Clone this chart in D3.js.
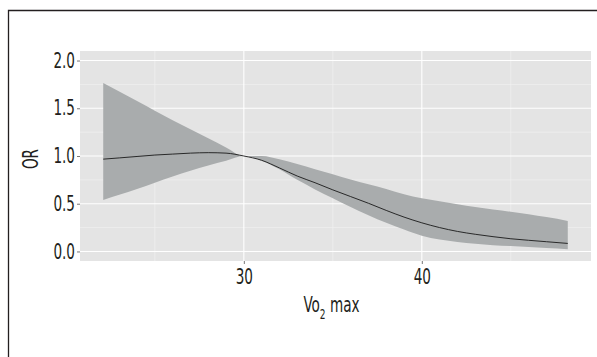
<!DOCTYPE html>
<html lang="en">
<head>
<meta charset="UTF-8" />
<title>OR by Vo2 max</title>
<script src="https://d3js.org/d3.v7.min.js"></script>
<style>
  body { margin: 0; background: #fff; }
  text { font-family: "DejaVu Sans Condensed", "DejaVu Sans", sans-serif; fill: #231f20; }
</style>
</head>
<body>
<svg width="597" height="357"></svg>
<script>
const width = 597;
const height = 357;

// Vo2 max values and the fitted odds ratio with its confidence band
const vo2 = [22.1, 23, 24, 25, 26, 27, 28, 29, 30, 31, 32, 33, 34, 35, 36, 37, 38, 39, 40, 41, 42, 43, 44, 45, 46, 47, 48.2];
const orFit = [0.967, 0.98, 0.995, 1.01, 1.02, 1.03, 1.035, 1.03, 1.0, 0.955, 0.875, 0.79, 0.72, 0.645, 0.575, 0.505, 0.43, 0.36, 0.30, 0.25, 0.21, 0.18, 0.155, 0.133, 0.117, 0.102, 0.084];
const orUpper = [1.766, 1.675, 1.575, 1.475, 1.375, 1.28, 1.185, 1.09, 1.0, 1.0, 0.965, 0.915, 0.86, 0.81, 0.755, 0.705, 0.655, 0.60, 0.557, 0.525, 0.495, 0.465, 0.44, 0.416, 0.39, 0.36, 0.32];
const orLower = [0.54, 0.595, 0.655, 0.72, 0.785, 0.845, 0.9, 0.95, 1.0, 0.95, 0.86, 0.75, 0.65, 0.557, 0.465, 0.38, 0.30, 0.23, 0.165, 0.125, 0.10, 0.08, 0.066, 0.056, 0.046, 0.036, 0.024];

const xMajor = [30, 40];
const xMinor = [25, 35, 45];
const yMajor = [0, 0.5, 1.0, 1.5, 2.0];
const yMinor = [0.25, 0.75, 1.25, 1.75];

const panel = { left: 80, right: 591, top: 51, bottom: 261 };
const squeeze = 0.72; // narrow the glyphs to look like a condensed face
const fontSize = 21;

const data = vo2.map((v, i) => ({ x: v, y: orFit[i], lo: orLower[i], hi: orUpper[i] }));

// ggplot style 5% expansion
const xr = d3.extent(vo2);
const xPad = (xr[1] - xr[0]) * 0.05;
const x = d3.scaleLinear().domain([xr[0] - xPad, xr[1] + xPad]).range([panel.left, panel.right]);
const y = d3.scaleLinear().domain([-0.1, 2.1]).range([panel.bottom, panel.top]);

const svg = d3.select("svg");

// outer frame (only top and left edges show)
svg.append("path")
  .attr("d", `M8.5,${height} V10.5 H${width}`)
  .attr("fill", "none")
  .attr("stroke", "#231f20")
  .attr("stroke-width", 1.3);

// panel background
svg.append("rect")
  .attr("x", panel.left).attr("y", panel.top)
  .attr("width", panel.right - panel.left).attr("height", panel.bottom - panel.top)
  .attr("fill", "#e4e4e4");

const grid = svg.append("g");
grid.selectAll(".ymin").data(yMinor).join("line")
  .attr("x1", panel.left).attr("x2", panel.right)
  .attr("y1", d => y(d)).attr("y2", d => y(d))
  .attr("stroke", "#f4f4f4").attr("stroke-width", 0.6);
grid.selectAll(".xmin").data(xMinor).join("line")
  .attr("y1", panel.top).attr("y2", panel.bottom)
  .attr("x1", d => x(d)).attr("x2", d => x(d))
  .attr("stroke", "#f4f4f4").attr("stroke-width", 0.6);
grid.selectAll(".ymaj").data(yMajor).join("line")
  .attr("x1", panel.left).attr("x2", panel.right)
  .attr("y1", d => y(d)).attr("y2", d => y(d))
  .attr("stroke", "#fff").attr("stroke-width", 1.1);
grid.selectAll(".xmaj").data(xMajor).join("line")
  .attr("y1", panel.top).attr("y2", panel.bottom)
  .attr("x1", d => x(d)).attr("x2", d => x(d))
  .attr("stroke", "#fff").attr("stroke-width", 1.1);

// confidence band
const band = d3.area()
  .x(d => x(d.x))
  .y0(d => y(d.lo))
  .y1(d => y(d.hi))
  .curve(d3.curveMonotoneX);
svg.append("path").datum(data)
  .attr("d", band)
  .attr("fill", "#a9acad");

// fitted curve
const line = d3.line()
  .x(d => x(d.x))
  .y(d => y(d.y))
  .curve(d3.curveMonotoneX);
svg.append("path").datum(data)
  .attr("d", line)
  .attr("fill", "none")
  .attr("stroke", "#1a1a1a")
  .attr("stroke-width", 0.9);

// axes
const xAxis = d3.axisBottom(x).tickValues(xMajor).tickSize(3).tickPadding(5).tickFormat(d3.format("d"));
const xg = svg.append("g").attr("transform", `translate(0,${panel.bottom})`).call(xAxis);
const yAxis = d3.axisLeft(y).tickValues(yMajor).tickSize(3).tickPadding(2).tickFormat(d3.format(".1f"));
const yg = svg.append("g").attr("transform", `translate(${panel.left},0)`).call(yAxis);

[xg, yg].forEach(g => {
  g.select(".domain").remove();
  g.attr("font-family", null).attr("font-size", null);
  g.selectAll(".tick line").attr("stroke", "#555").attr("stroke-width", 0.8);
  g.selectAll(".tick text")
    .attr("font-size", fontSize)
    .attr("fill", "#231f20")
    .attr("x", function () { return +d3.select(this).attr("x") / squeeze || 0; })
    .attr("transform", `scale(${squeeze},1)`);
});
xg.selectAll(".tick text").attr("dy", "0.7em");

// axis titles
const xt = svg.append("text")
  .attr("transform", `translate(${(panel.left + panel.right) / 2 - 4},312) scale(${squeeze},1)`)
  .attr("text-anchor", "middle")
  .attr("font-size", fontSize);
xt.append("tspan").text("Vo");
xt.append("tspan").attr("font-size", 14).attr("dy", 7).text("2");
xt.append("tspan").attr("dy", -7).text(" max");

svg.append("text")
  .attr("transform", `translate(38,${(panel.top + panel.bottom) / 2 + 3}) rotate(-90) scale(${squeeze},1)`)
  .attr("text-anchor", "middle")
  .attr("font-size", fontSize)
  .text("OR");
</script>
</body>
</html>
